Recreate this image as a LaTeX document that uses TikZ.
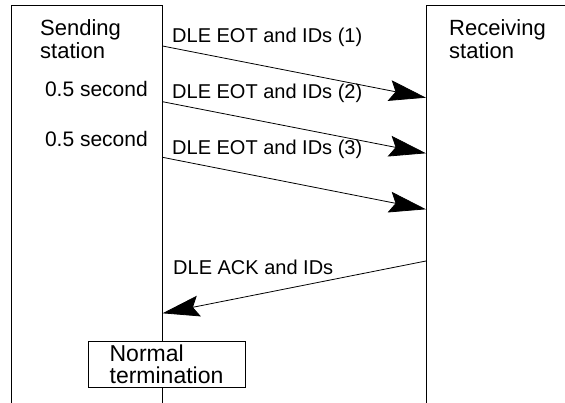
\documentclass[tikz,border=0pt]{standalone}
\usepackage{fontspec}
\setmainfont{Liberation Sans}
\usetikzlibrary{arrows.meta, positioning}

\begin{document}
\begin{tikzpicture}[
    x=1pt, y=-1pt,
    frame/.style={draw, line width=1pt},
    msg/.style={draw, line width=0.8pt, -{Stealth[length=37pt, width=21pt, inset=6pt]}},
    station/.style={anchor=north west, inner sep=0pt, align=left, font=\fontsize{22}{23}\selectfont},
    msglabel/.style={anchor=base west, inner sep=0pt, font=\fontsize{20}{24}\selectfont},
    delay/.style={anchor=base east, inner sep=0pt, font=\fontsize{21}{24}\selectfont},
    endbox/.style={draw, line width=1pt, fill=white, minimum width=157pt, minimum height=45pt, inner sep=0pt, align=left, font=\fontsize{23}{21.5}\selectfont}
]
\useasboundingbox (0,0) rectangle (565,403);

\draw[frame] (11.5,403) |- (162.5,5.5) -- (162.5,403);
\draw[frame] (426,403) |- (566,6);

\node[station] (send) at (40,19) {Sending\\station};
\node[station] (recv) at (449,19) {Receiving\\station};

\node[delay] (wait1) at (148,97) {0.5 second};
\node[delay] (wait2) at (148,147) {0.5 second};

\coordinate (S1) at (162.5,46);
\coordinate (S2) at (162.5,101.7);
\coordinate (S3) at (162.5,157.3);
\coordinate (S4) at (162.5,313.3);
\coordinate (R1) at (426,97.7);
\coordinate (R2) at (426,153.3);
\coordinate (R3) at (426,209.3);
\coordinate (R4) at (426,261);

\draw[msg] (S1) -- (R1);
\draw[msg] (S2) -- (R2);
\draw[msg] (S3) -- (R3);
\draw[msg] (R4) -- (S4);

\node[msglabel] (m1) at (172,42.7) {DLE EOT and IDs (1)};
\node[msglabel] (m2) at (172,98.3) {DLE EOT and IDs (2)};
\node[msglabel] (m3) at (172,155) {DLE EOT and IDs (3)};
\node[msglabel] (ack) at (173,275) {DLE ACK and IDs};

\node[endbox] (done) at (166.5,364.5) {Normal\\termination};

\end{tikzpicture}
\end{document}
